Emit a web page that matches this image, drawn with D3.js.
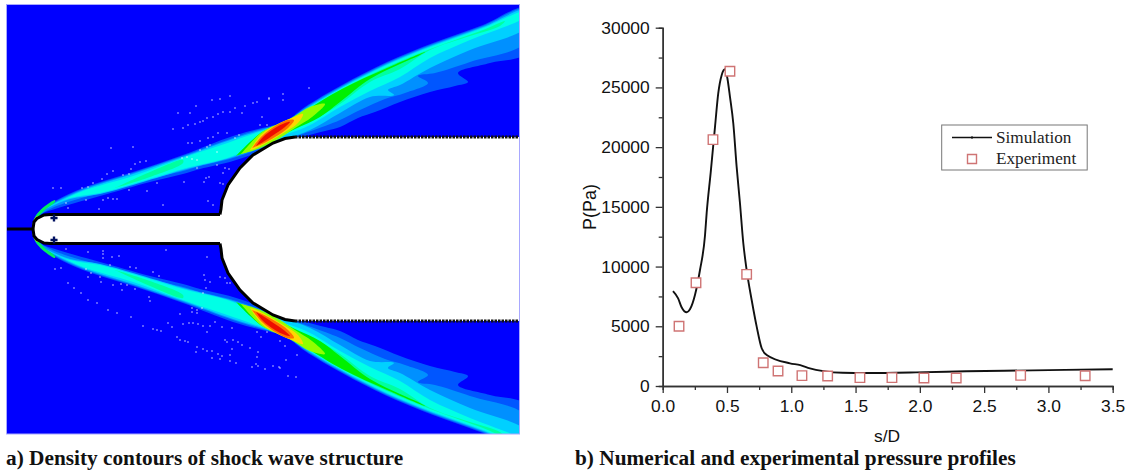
<!DOCTYPE html>
<html>
<head>
<meta charset="utf-8">
<script src="https://cdn.jsdelivr.net/npm/d3@7"></script>
<style>
html, body { margin: 0; padding: 0; background: #fff; }
svg { display: block; }
</style>
</head>
<body>
<script>
// panel b data
var simS = [0.08,0.12,0.147,0.187,0.212,0.251,0.29,0.329,0.342,0.373,0.407,0.432,0.459,0.484,0.503,0.523,0.549,0.575,0.601,0.627,0.653,0.692,0.731,0.77,0.809,0.99,1.07,1.145,1.25,1.4,1.58,1.97,2.36,2.88,3.5];
var simP = [7950,7340,6590,6170,6420,7620,9710,12600,14490,17840,21720,24500,26040,26520,25770,24230,22000,18370,15300,11950,9710,7200,4970,3160,2600,1900,1750,1480,1250,1110,1090,1140,1230,1310,1400];
var expS = [0.127,0.259,0.391,0.523,0.653,0.782,0.897,1.083,1.283,1.534,1.783,2.032,2.283,2.784,3.286];
var expP = [5000,8650,20630,26350,9350,1950,1260,870,840,700,700,670,670,890,860];
var xTicks = [0,0.5,1,1.5,2,2.5,3,3.5];
var xMinor = [0.25,0.75,1.25,1.75,2.25,2.75,3.25];
var yTicks = [0,5000,10000,15000,20000,25000,30000];
var yMinor = [2500,7500,12500,17500,22500,27500];

// panel a data: upper half of the field, [x, height above axis]; lower half is the mirror
var shockTop = [[33,3],[36,14],[43,20],[57,29],[83,41],[133,57],[183,74],[233,93],[262,101],[275,104],[285,107],[305,122],[342,144],[387,167],[433,186],[483,204],[526,221]];
var band1Low = [[526,176],[490,166],[458,156],[468,147],[455,143],[430,137],[400,127],[375,117],[358,111],[340,102],[325,98],[302,92],[262,78],[233,68],[200,60],[183,55],[150,47],[100,33],[75,26],[55,20],[40,14],[33,3]];
var band2Top = [[36,12],[43,18],[57,28],[83,40],[133,56],[183,73],[233,91],[262,100],[275,103],[285,106],[305,121],[342,143],[387,166],[433,185],[483,203],[526,220]];
var band2Low = [[526,187],[470,167],[435,156],[418,153],[428,146],[405,136],[385,130],[360,119],[340,109],[325,103],[300,94],[262,81],[233,71],[200,63],[183,58],[150,50],[110,38],[85,32],[65,26],[50,20],[36,12]];
var band3Top = [[40,17],[57,27],[83,39],[133,55],[183,72],[233,90],[262,99],[275,103],[285,106],[305,120],[342,142],[387,165],[433,184],[483,202],[526,219]];
var band3Low = [[526,202],[470,179],[430,161],[400,144],[388,139],[394,134],[370,132],[340,116],[310,99],[285,90],[262,83],[233,72],[183,59],[133,44],[100,35],[70,30],[50,22],[40,17]];
var band4Top = [[45,21],[57,26],[83,38],[133,53],[183,71],[233,88],[262,98],[275,102],[285,106],[305,119],[342,141],[387,164],[433,183],[483,201],[526,218]];
var band4Low = [[526,213],[470,189],[430,171],[400,152],[370,138],[340,122],[310,104],[290,96],[262,88],[233,73],[183,60],[133,45],[100,36],[70,31],[45,21]];
var band5 = [[236,73],[262,97],[275,102],[285,106],[305,118],[342,140],[387,162],[433,181],[483,199],[505,208],[500,203],[470,193],[430,179],[400,160],[370,147],[340,125],[315,110],[290,100],[262,85],[236,73]];
var spindle = [[115,41],[150,57],[183,69],[183,66],[150,52],[115,41]];
var band6 = [[236,73],[262,97],[280,105],[293,111],[305,118],[342,140],[387,161],[425,177],[420,174],[400,165],[370,150],[340,127],[320,112],[295,100],[262,84],[236,73]];
var band7 = [[241,75],[262,97],[280,106],[293,112],[310,122],[325,125],[312,112],[295,101],[275,88],[255,79],[241,75]];
var band8 = [[250,79],[262,95],[278,105],[292,111],[303,115],[298,106],[285,97],[270,88],[254,80],[250,79]];
var band9 = [[252,81],[262,93],[275,103],[287,109],[294,109],[288,101],[275,92],[262,85],[252,81]];
var band10 = [[256,83],[263,92],[275,101],[285,106],[290,107],[285,102],[275,95],[263,87],[256,83]];
var noseOuter = [[33,1],[33,7],[37,15],[45,23],[55,29],[55,27],[46,20],[40,14],[35,7],[34,1]];
var noseInner = [[33,1],[33,7],[36,12],[38,13],[35,7],[34,1]];

var contourLayers = [
  {pts: shockTop.concat(band1Low), color: "#0056ff"},
  {pts: band2Top.concat(band2Low), color: "#0090ff"},
  {pts: band3Top.concat(band3Low), color: "#00d0ff"},
  {pts: band4Top.concat(band4Low), color: "#00ffe6"},
  {pts: band5, color: "#00ffa0"},
  {pts: spindle, color: "#00ffa0"},
  {pts: band6, color: "#00f000"},
  {pts: band7, color: "#90ff00"},
  {pts: band8, color: "#ffd800"},
  {pts: band9, color: "#ff7000"},
  {pts: band10, color: "#ee1000"},
  {pts: noseOuter, color: "#00ee60"},
  {pts: noseInner, color: "#f0e000"}
];

var spikeWall = [[33,0],[34,7],[37,10.5],[44,14],[50,14.5],[220,14.5]];
var flareWall = [[220,14.5],[221,20],[222,29],[228,44],[240,61],[253,74],[273,86],[285,90.5],[295,92]];
var flatWall = [[295,92],[519,92]];
var stingWall = [[6,0],[33,0]];
var probes = [[54,11],[54,-11]];

var dotsUpper = [[212,129],[220,130],[230,133],[269,130],[257,127],[253,126],[245,123],[235,121],[230,117],[223,117],[218,115],[213,112],[207,111],[203,108],[200,107],[195,105],[188,104],[183,101],[173,100],[178,116],[196,123],[190,116],[262,112],[260,104],[267,104],[242,116],[239,94],[235,91],[227,96],[218,96],[213,92],[208,91],[200,88],[192,86],[188,86],[182,71],[187,72],[192,70],[197,69],[200,79],[207,82],[210,84],[217,77],[146,68],[140,67],[135,65],[131,60],[113,58],[107,55],[123,54],[129,55],[102,50],[93,46],[88,42],[82,41],[61,41],[53,41],[66,26],[68,21],[86,29],[99,20],[103,29],[108,31],[113,30],[117,30],[129,39],[147,38],[157,46],[163,24],[184,47],[204,47],[206,51],[209,52],[220,46],[223,45],[223,56],[229,60],[225,61],[217,64],[208,28],[213,24],[111,81],[133,82],[197,61],[309,141],[283,135],[283,129],[269,131]];
var dotsLower = [[66,-20],[88,-23],[103,-22],[103,-25],[103,-29],[112,-28],[119,-27],[166,-21],[207,-28],[61,-39],[55,-40],[86,-40],[91,-44],[88,-48],[100,-48],[101,-53],[110,-36],[130,-38],[136,-39],[153,-43],[159,-47],[68,-54],[74,-59],[81,-64],[88,-71],[97,-74],[108,-81],[117,-84],[131,-88],[113,-56],[121,-55],[127,-56],[122,-61],[135,-60],[149,-68],[150,-72],[143,-97],[153,-100],[157,-101],[161,-102],[168,-94],[172,-98],[180,-85],[183,-95],[189,-94],[193,-94],[198,-95],[203,-97],[210,-97],[215,-93],[207,-103],[192,-79],[197,-81],[202,-79],[192,-83],[197,-84],[204,-46],[205,-51],[210,-53],[206,-59],[203,-64],[220,-48],[225,-49],[227,-54],[230,-54],[177,-108],[180,-111],[185,-112],[188,-113],[197,-118],[196,-123],[203,-120],[207,-122],[212,-122],[212,-129],[218,-125],[222,-127],[220,-130],[230,-126],[230,-132],[236,-134],[225,-111],[227,-113],[233,-111],[238,-113],[242,-116],[232,-120],[222,-98],[232,-99],[257,-103],[261,-108],[267,-103],[250,-119],[258,-123],[257,-128],[256,-135],[252,-138],[258,-137],[265,-140],[273,-137],[279,-138],[288,-147],[296,-148],[280,-139],[286,-131],[297,-126],[285,-117],[280,-112]];

var width = 1133;
var height = 475;

var svg = d3.select("body")
    .append("svg")
    .attr("width", width)
    .attr("height", height);

var defs = svg.append("defs");
defs.append("clipPath").attr("id", "panel")
    .append("rect").attr("x", 6.5).attr("y", 5).attr("width", 513).attr("height", 429);
defs.append("filter").attr("id", "soft")
    .append("feGaussianBlur").attr("stdDeviation", 0.6);

//--- panel a: density contours
var fx = d3.scaleLinear().domain([6.5, 519.5]).range([6.5, 519.5]);
var fy = d3.scaleLinear().domain([-205, 224]).range([434, 5]);

var fieldLine = d3.line().x(function(d) { return fx(d[0]); }).y(function(d) { return fy(d[1]); });
var contourLine = d3.line().curve(d3.curveCatmullRomClosed.alpha(0.5))
    .x(function(d) { return fx(d[0]); })
    .y(function(d) { return fy(d[1]); });
var mirror = function(pts) { return pts.map(function(p) { return [p[0], -p[1]]; }); };

var field = svg.append("g").attr("clip-path", "url(#panel)");
field.append("rect")
    .attr("x", fx(6.5)).attr("y", fy(224))
    .attr("width", fx(519.5) - fx(6.5)).attr("height", fy(-205) - fy(224))
    .attr("fill", "#0000ff");

var contours = field.append("g").attr("filter", "url(#soft)");
[1, -1].forEach(function(side) {
  contours.selectAll("path.side" + side)
    .data(contourLayers)
    .enter()
    .append("path")
    .attr("class", "side" + side)
    .attr("fill", function(d) { return d.color; })
    .attr("d", function(d) { return contourLine(side > 0 ? d.pts : mirror(d.pts)); });
});

field.selectAll("circle.dot")
    .data(dotsUpper.concat(dotsLower))
    .enter()
    .append("circle")
    .attr("class", "dot")
    .attr("cx", function(d) { return fx(d[0]); })
    .attr("cy", function(d) { return fy(d[1]); })
    .attr("r", 0.8)
    .attr("fill", "#fff")
    .attr("opacity", 0.8);

// body
var bodyUpper = spikeWall.concat(flareWall, flatWall);
field.append("path")
    .attr("d", fieldLine(bodyUpper.concat(mirror(bodyUpper).reverse())) + "Z")
    .attr("fill", "#fff");

[1, -1].forEach(function(side) {
  var f = function(w) { return side > 0 ? w : mirror(w); };
  field.append("path").attr("d", fieldLine(f(spikeWall)))
      .attr("fill", "none").attr("stroke", "#000").attr("stroke-width", 3);
  field.append("path").attr("d", fieldLine(f(flareWall)))
      .attr("fill", "none").attr("stroke", "#000").attr("stroke-width", 3);
  field.append("path").attr("d", fieldLine(f(flatWall)))
      .attr("fill", "none").attr("stroke", "#111").attr("stroke-width", 3)
      .attr("stroke-dasharray", "2.5,1");
});
field.append("path").attr("d", fieldLine(stingWall))
    .attr("fill", "none").attr("stroke", "#000").attr("stroke-width", 3);

field.selectAll("path.probe")
    .data(probes)
    .enter()
    .append("path")
    .attr("class", "probe")
    .attr("transform", function(d) { return "translate(" + fx(d[0]) + "," + fy(d[1]) + ")"; })
    .attr("d", d3.symbol().type(d3.symbolCross).size(28))
    .attr("fill", "#001060");

svg.append("rect")
    .attr("x", 6.5).attr("y", 4.5).attr("width", 513).attr("height", 429.5)
    .attr("fill", "none").attr("stroke", "#a8a8ff").attr("stroke-width", 1);

svg.append("text")
    .attr("x", 6).attr("y", 465)
    .attr("font-family", "Liberation Serif")
    .attr("font-weight", "bold")
    .attr("font-size", 21.3)
    .attr("fill", "#111")
    .text("a) Density contours of shock wave structure");

//--- panel b: pressure profile
var x = d3.scaleLinear().domain([0, 3.5]).range([662.7, 1112.7]);
var y = d3.scaleLinear().domain([0, 30000]).range([386, 27.7]);

var drawAxis = function(axis, tx, ty) {
  var g = svg.append("g")
      .attr("transform", "translate(" + tx + "," + ty + ")")
      .call(axis);
  g.select(".domain").attr("stroke", "#333").attr("stroke-width", 1.5);
  g.selectAll(".tick line").attr("stroke", "#333").attr("stroke-width", 1.3);
  g.selectAll("text")
      .attr("font-family", "Liberation Sans")
      .attr("font-size", 17.4)
      .attr("fill", "#111");
};

drawAxis(d3.axisBottom(x).tickValues(xMinor).tickSize(4).tickFormat(""), 0, 386);
drawAxis(d3.axisBottom(x).tickValues(xTicks).tickSize(7).tickSizeOuter(0).tickPadding(7).tickFormat(d3.format(".1f")), 0, 386);
drawAxis(d3.axisLeft(y).tickValues(yMinor).tickSize(4).tickFormat(""), 662.7, 0);
drawAxis(d3.axisLeft(y).tickValues(yTicks).tickSize(7).tickSizeOuter(0).tickPadding(6).tickFormat(d3.format("d")), 662.7, 0);

var simData = simS.map(function(s, i) { return [s, simP[i]]; });
var expData = expS.map(function(s, i) { return [s, expP[i]]; });

svg.append("path")
    .attr("d", d3.line().curve(d3.curveMonotoneX)
        .x(function(d) { return x(d[0]); })
        .y(function(d) { return y(d[1]); })(simData))
    .attr("fill", "none")
    .attr("stroke", "#111")
    .attr("stroke-width", 1.9);

svg.selectAll("path.exp")
    .data(expData)
    .enter()
    .append("path")
    .attr("class", "exp")
    .attr("transform", function(d) { return "translate(" + x(d[0]) + "," + y(d[1]) + ")"; })
    .attr("d", d3.symbol().type(d3.symbolSquare).size(90))
    .attr("fill", "#fff")
    .attr("stroke", "#cf7474")
    .attr("stroke-width", 1.4);

svg.append("text")
    .attr("x", 887).attr("y", 442)
    .attr("text-anchor", "middle")
    .attr("font-family", "Liberation Sans")
    .attr("font-size", 17.4)
    .attr("fill", "#111")
    .text("s/D");

svg.append("text")
    .attr("transform", "translate(596,207) rotate(-90)")
    .attr("text-anchor", "middle")
    .attr("font-family", "Liberation Sans")
    .attr("font-size", 18)
    .attr("fill", "#111")
    .text("P(Pa)");

// legend
var legend = svg.append("g");
legend.append("rect")
    .attr("x", 941.7).attr("y", 125).attr("width", 145.5).attr("height", 45)
    .attr("fill", "#fff").attr("stroke", "#777").attr("stroke-width", 1);
legend.append("line")
    .attr("x1", 952).attr("x2", 992).attr("y1", 137.5).attr("y2", 137.5)
    .attr("stroke", "#111").attr("stroke-width", 1.6);
legend.append("line")
    .attr("x1", 972).attr("x2", 972).attr("y1", 136).attr("y2", 139)
    .attr("stroke", "#111").attr("stroke-width", 1);
legend.append("path")
    .attr("transform", "translate(972,159)")
    .attr("d", d3.symbol().type(d3.symbolSquare).size(81))
    .attr("fill", "#fff").attr("stroke", "#cf7474").attr("stroke-width", 1.4);
legend.selectAll("text")
    .data(["Simulation", "Experiment"])
    .enter()
    .append("text")
    .attr("x", 996)
    .attr("y", function(d, i) { return 143 + i * 21; })
    .attr("font-family", "Liberation Serif")
    .attr("font-size", 17.2)
    .attr("fill", "#222")
    .text(function(d) { return d; });

svg.append("text")
    .attr("x", 575).attr("y", 465)
    .attr("font-family", "Liberation Serif")
    .attr("font-weight", "bold")
    .attr("font-size", 21.3)
    .attr("fill", "#111")
    .text("b) Numerical and experimental pressure profiles");
</script>
</body>
</html>
